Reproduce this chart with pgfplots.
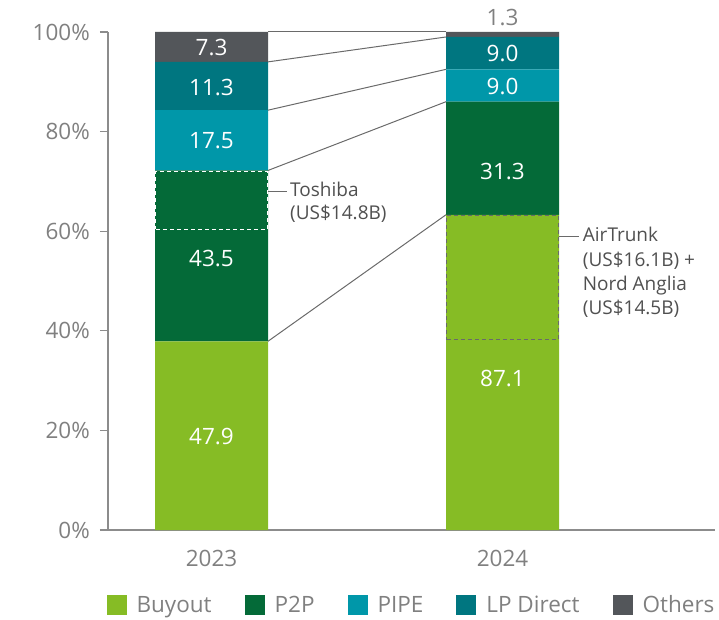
\documentclass[border=0pt]{standalone}
\usepackage{pgfplots}
\pgfplotsset{compat=1.18}
\usepackage{fontspec}
\setmainfont{Open Sans}
\definecolor{cBuy}{HTML}{86BC25}
\definecolor{cP2P}{HTML}{046A38}
\definecolor{cPIPE}{HTML}{0097A9}
\definecolor{cLP}{HTML}{007680}
\definecolor{cOth}{HTML}{53565A}
\definecolor{tickgray}{HTML}{808080}
\definecolor{axisgray}{HTML}{8C8C8C}
\definecolor{notegray}{HTML}{505050}
\definecolor{linegray}{HTML}{6A6A6A}
\newcommand{\fbig}{\fontsize{22.5bp}{27bp}\selectfont}
\newcommand{\fnote}{\fontsize{19bp}{24bp}\selectfont}
\begin{document}
\begin{tikzpicture}
\begin{axis}[
  scale only axis, width=607bp, height=498bp,
  xmin=-0.3557, xmax=1.7302, ymin=0, ymax=100,
  ybar stacked, bar width=0.3883,
  axis x line*=bottom, axis y line*=left,
  axis line style={draw=axisgray, line width=1.2bp},
  xtick={0,1}, xticklabels={2023,2024},
  ytick={0,20,40,60,80,100},
  yticklabels={0\%,20\%,40\%,60\%,80\%,100\%},
  tick align=outside, major tick length=8bp,
  tick style={draw=axisgray, line width=1.2bp},
  x tick style={draw=none},
  tick label style={font=\fbig, text=tickgray},
  yticklabel style={inner sep=0pt, xshift=-10bp},
  xticklabel style={inner sep=0pt, yshift=-12bp},
  legend columns=5,
  legend style={at={(0.4983,-0.1506)}, anchor=center, draw=none, fill=none,
    inner sep=0pt, font=\fbig, text=tickgray, nodes={inner sep=0pt},
    /tikz/every odd column/.append style={column sep=10bp},
    /tikz/every even column/.append style={column sep=33bp}},
  legend image code/.code={\fill[#1] (0bp,-10bp) rectangle (20bp,10bp);},
]
\addplot[fill=cBuy, draw=none] coordinates {(0,37.9) (1,63.3)};
\addplot[fill=cP2P, draw=none] coordinates {(0,34.3) (1,22.7)};
\addplot[fill=cPIPE, draw=none] coordinates {(0,12.1) (1,6.5)};
\addplot[fill=cLP, draw=none] coordinates {(0,9.7) (1,6.5)};
\addplot[fill=cOth, draw=none] coordinates {(0,6.0) (1,1.0)};
\legend{Buyout,P2P,PIPE,LP Direct,Others}
\end{axis}
\begin{axis}[
  scale only axis, width=607bp, height=498bp,
  xmin=-0.3557, xmax=1.7302, ymin=0, ymax=100,
  hide axis, clip=false,
  con/.style={draw=linegray, line width=1bp},
]
% connector lines between bars
\addplot[con] coordinates {(0.1942,100) (0.8058,100)};
\addplot[con] coordinates {(0.1942,94.0) (0.8058,99.0)};
\addplot[con] coordinates {(0.1942,84.3) (0.8058,92.5)};
\addplot[con] coordinates {(0.1942,72.2) (0.8058,86.0)};
\addplot[con] coordinates {(0.1942,37.9) (0.8058,63.3)};
% dashed highlight boxes
\addplot[draw=white, line width=1.3bp, dash pattern=on 4bp off 3bp]
  coordinates {(-0.1915,60.4) (0.1915,60.4) (0.1915,72.05) (-0.1915,72.05) (-0.1915,60.4)};
\addplot[draw=linegray, line width=1.3bp, dash pattern=on 4bp off 3bp]
  coordinates {(0.8085,38.2) (1.1915,38.2) (1.1915,63.15) (0.8085,63.15) (0.8085,38.2)};
% pointers
\addplot[con] coordinates {(0.1942,67.9) (0.2584,67.9)};
\addplot[con] coordinates {(1.1942,59.0) (1.2639,59.0)};
% value labels
\addplot[draw=none, nodes near coords, point meta=explicit symbolic,
  every node near coord/.append style={anchor=center, font=\fbig, text=white, inner sep=0pt}]
  table[meta=lab] {
x y lab
0 18.74 47.9
0 54.6 43.5
0 78.25 17.5
0 88.9 11.3
0 96.85 7.3
1 30.5 87.1
1 71.95 31.3
1 89.0 9.0
1 95.6 9.0
};
\addplot[draw=none, nodes near coords, point meta=explicit symbolic,
  every node near coord/.append style={anchor=center, font=\fbig, text=tickgray, inner sep=0pt}]
  table[meta=lab] {
x y lab
1 102.85 1.3
};
\node[anchor=base west, font=\fnote, text=notegray, inner sep=0pt] at (axis cs:0.2698,66.87) {Toshiba};
\node[anchor=base west, font=\fnote, text=notegray, inner sep=0pt] at (axis cs:0.2698,62.25) {(US\$14.8B)};
\node[anchor=base west, font=\fnote, text=notegray, inner sep=0pt] at (axis cs:1.2756,57.89) {AirTrunk};
\node[anchor=base west, font=\fnote, text=notegray, inner sep=0pt] at (axis cs:1.2756,53.01) {(US\$16.1B) +};
\node[anchor=base west, font=\fnote, text=notegray, inner sep=0pt] at (axis cs:1.2756,48.19) {Nord Anglia};
\node[anchor=base west, font=\fnote, text=notegray, inner sep=0pt] at (axis cs:1.2756,43.37) {(US\$14.5B)};
\end{axis}
\pgfresetboundingbox
\path (-108bp,-90bp) rectangle (611bp,530bp);
\end{tikzpicture}
\end{document}
